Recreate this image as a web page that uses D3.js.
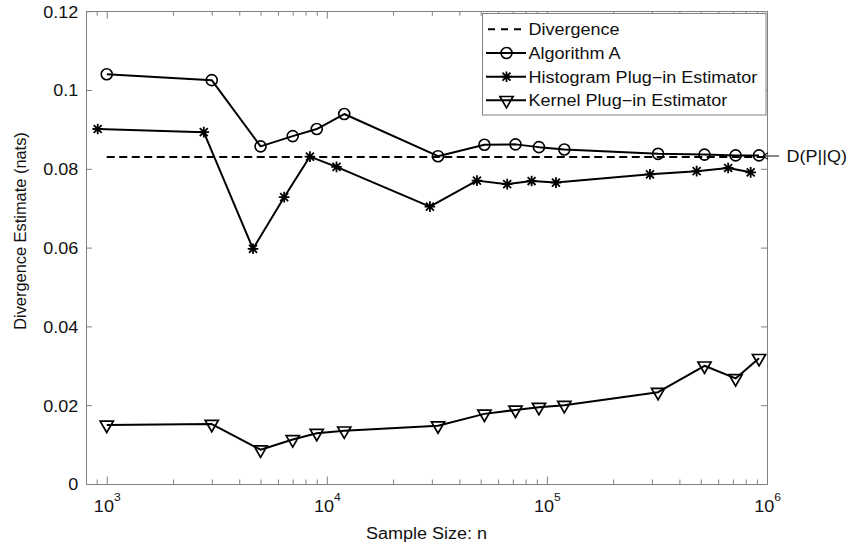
<!DOCTYPE html>
<html>
<head>
<meta charset="utf-8">
<script src="https://cdn.jsdelivr.net/npm/d3@7/dist/d3.min.js"></script>
<style>
  html, body { margin: 0; padding: 0; background: #fff; }
  svg { display: block; }
  text { font-family: "Liberation Sans", Arial, Helvetica, sans-serif; fill: #111; }
</style>
</head>
<body>
<svg id="chart" width="851" height="547"></svg>
<script>
// ---------------- data ----------------
const divergenceValue = 0.083;
const divergenceN = [1000, 1000000];

const algN   = [1000, 3000, 5000, 7000, 9000, 12000, 32000, 52000, 72000, 92000, 120000, 320000, 520000, 720000, 920000];
const algVal = [0.1040, 0.1025, 0.0857, 0.0883, 0.0901, 0.0939, 0.0832, 0.0861, 0.0862, 0.0855, 0.0849, 0.0838, 0.0836, 0.0834, 0.0834];

const histN   = [910, 2760, 4620, 6400, 8380, 11070, 29400, 48100, 66000, 85200, 109900, 294000, 479000, 666000, 843000];
const histVal = [0.0901, 0.0893, 0.0597, 0.0728, 0.0831, 0.0805, 0.0704, 0.0770, 0.0761, 0.0769, 0.0765, 0.0786, 0.0794, 0.0802, 0.0791];

const kernN   = [1000, 3000, 5000, 7000, 9000, 12000, 32000, 52000, 72000, 92000, 120000, 320000, 520000, 720000, 920000];
const kernVal = [0.0150, 0.0152, 0.0087, 0.0113, 0.0129, 0.0135, 0.0148, 0.0178, 0.0188, 0.0195, 0.0200, 0.0233, 0.0300, 0.0268, 0.0319];

const xMajorTicks = [1e3, 1e4, 1e5, 1e6];
const xMajorExp = ["3", "4", "5", "6"];
const yTicks = [0, 0.02, 0.04, 0.06, 0.08, 0.1, 0.12];
const yTickLabels = ["0", "0.02", "0.04", "0.06", "0.08", "0.1", "0.12"];

const legendLabels = ["Divergence", "Algorithm A", "Histogram Plug\u2212in Estimator", "Kernel Plug\u2212in Estimator"];
const annotationLabel = "D(P||Q)";
const xLabel = "Sample Size: n";
const yLabel = "Divergence Estimate (nats)";

// ---------------- layout ----------------
const L = 86, R = 767, T = 11.2, B = 484;
const FS = 16.4, SX = 1.1;
const axisColor = "#808080";

const svg = d3.select("#chart");
const x = d3.scaleLog().domain([805, 1e6]).range([L, R]);
const y = d3.scaleLinear().domain([0, 0.12]).range([B, T]);

// minor ticks
const xMinor = [];
for (let e = 2; e <= 5; e++) for (let m = 2; m <= 9; m++) {
  const v = m * Math.pow(10, e);
  if (v >= 805 && v <= 1e6) xMinor.push(v);
}

function styleAxis(g) {
  g.select(".domain").remove();
  g.selectAll(".tick line").attr("stroke", axisColor).attr("stroke-width", 1);
}

// bottom major
const gxB = svg.append("g").attr("transform", `translate(0,${B})`)
  .call(d3.axisBottom(x).tickValues(xMajorTicks).tickSizeInner(-7.5).tickSizeOuter(0).tickPadding(14).tickFormat(""))
  .call(styleAxis);
gxB.selectAll(".tick text").remove();
gxB.selectAll(".tick").each(function(d, i) {
  const t = d3.select(this).append("text")
    .attr("transform", `scale(${SX},1)`)
    .attr("x", 0).attr("y", 28)
    .attr("text-anchor", "middle")
    .style("font-size", FS + "px");
  t.append("tspan").text("10");
  t.append("tspan").attr("dy", -11).style("font-size", "11px").text(xMajorExp[i]);
});
// bottom minor
svg.append("g").attr("transform", `translate(0,${B})`)
  .call(d3.axisBottom(x).tickValues(xMinor).tickSizeInner(-4.5).tickSizeOuter(0).tickFormat(""))
  .call(styleAxis);
// top major + minor
svg.append("g").attr("transform", `translate(0,${T})`)
  .call(d3.axisTop(x).tickValues(xMajorTicks).tickSizeInner(-7.5).tickSizeOuter(0).tickFormat(""))
  .call(styleAxis);
svg.append("g").attr("transform", `translate(0,${T})`)
  .call(d3.axisTop(x).tickValues(xMinor).tickSizeInner(-4.5).tickSizeOuter(0).tickFormat(""))
  .call(styleAxis);

// left
const gyL = svg.append("g").attr("transform", `translate(${L},0)`)
  .call(d3.axisLeft(y).tickValues(yTicks).tickSizeInner(-6).tickSizeOuter(0).tickPadding(7)
    .tickFormat((d, i) => yTickLabels[i]))
  .call(styleAxis);
gyL.selectAll(".tick text")
  .attr("transform", `scale(${SX},1)`)
  .attr("dy", "0.36em")
  .style("font-size", FS + "px")
  .attr("font-family", null)
  .attr("fill", "#111");
// right
svg.append("g").attr("transform", `translate(${R},0)`)
  .call(d3.axisRight(y).tickValues(yTicks).tickSizeInner(-6).tickSizeOuter(0).tickFormat(""))
  .call(styleAxis);

// box
svg.append("rect").attr("x", L).attr("y", T).attr("width", R - L).attr("height", B - T)
  .attr("fill", "none").attr("stroke", axisColor).attr("stroke-width", 1)
  .attr("shape-rendering", "crispEdges");

// clip
svg.append("clipPath").attr("id", "plotclip").append("rect")
  .attr("x", L).attr("y", T - 10).attr("width", R - L).attr("height", B - T + 20);

const plot = svg.append("g");

// divergence dashed line
plot.append("path")
  .attr("clip-path", "url(#plotclip)")
  .datum(divergenceN)
  .attr("d", d3.line().x(d => x(d)).y(() => y(divergenceValue)))
  .attr("fill", "none").attr("stroke", "#000").attr("stroke-width", 2)
  .attr("stroke-dasharray", "8,4.5");

const line = d3.line().x(d => x(d[0])).y(d => y(d[1]));
function series(ns, vs) { return ns.map((n, i) => [n, vs[i]]); }

// marker generators
function circleMarker(g, cx, cy) {
  g.append("circle").attr("cx", cx).attr("cy", cy).attr("r", 5.5)
    .attr("fill", "none").attr("stroke", "#000").attr("stroke-width", 1.6);
}
function starMarker(g, cx, cy) {
  const r = 5.3, d = r * 0.75;
  g.append("path")
    .attr("d", `M${cx - r},${cy}L${cx + r},${cy}M${cx},${cy - r}L${cx},${cy + r}` +
               `M${cx - d},${cy - d}L${cx + d},${cy + d}M${cx - d},${cy + d}L${cx + d},${cy - d}`)
    .attr("fill", "none").attr("stroke", "#000").attr("stroke-width", 1.8);
}
function triMarker(g, cx, cy) {
  const r = 7.6;
  g.append("path")
    .attr("d", `M${cx},${cy + r}L${cx - r * 0.866},${cy - r / 2}L${cx + r * 0.866},${cy - r / 2}Z`)
    .attr("fill", "none").attr("stroke", "#000").attr("stroke-width", 1.7)
    .attr("stroke-linejoin", "miter");
}

const allSeries = [
  { data: series(algN, algVal), marker: circleMarker },
  { data: series(histN, histVal), marker: starMarker },
  { data: series(kernN, kernVal), marker: triMarker },
];
allSeries.forEach(s => {
  plot.append("path").datum(s.data).attr("d", line)
    .attr("fill", "none").attr("stroke", "#000").attr("stroke-width", 2)
    .attr("stroke-linejoin", "round");
  const mg = plot.append("g");
  s.data.forEach(d => s.marker(mg, x(d[0]), y(d[1])));
});

// helper for stretched text
function stext(parent, tx, ty, str, anchor) {
  return parent.append("text")
    .attr("transform", `translate(${tx},${ty}) scale(${SX},1)`)
    .attr("text-anchor", anchor || "start")
    .style("font-size", FS + "px")
    .text(str);
}

// annotation arrow + text
const ay = y(divergenceValue) - 1;
svg.append("path")
  .attr("d", `M763,${ay}L779,${ay}M763,${ay}L768,${ay - 3.2}M763,${ay}L768,${ay + 3.2}`)
  .attr("stroke", "#111").attr("stroke-width", 1.1).attr("fill", "none");
stext(svg, 786.5, ay + 6, annotationLabel);

// legend
const lg = svg.append("g");
lg.append("rect").attr("x", 482.5).attr("y", 13.5).attr("width", 283.5).attr("height", 101.5)
  .attr("fill", "#fff").attr("stroke", axisColor).attr("stroke-width", 1);
const legY = [29.3, 53, 76.7, 100.3];
const lx0 = 486, lx1 = 526, lmid = 506.5;
// divergence entry
lg.append("path").attr("d", `M${lx0 + 2},${legY[0]}L${lx1 - 2},${legY[0]}`)
  .attr("stroke", "#000").attr("stroke-width", 2).attr("stroke-dasharray", "7,6");
[circleMarker, starMarker, triMarker].forEach((mk, i) => {
  const yy = legY[i + 1];
  lg.append("path").attr("d", `M${lx0},${yy}L${lx1},${yy}`)
    .attr("stroke", "#000").attr("stroke-width", 2);
  mk(lg, lmid, yy);
});
legendLabels.forEach((t, i) => stext(lg, 528.5, legY[i] + 6, t));

// axis labels
stext(svg, (L + R) / 2, 539, xLabel, "middle");
svg.append("text")
  .attr("transform", `translate(26,231) rotate(-90)`)
  .attr("text-anchor", "middle")
  .style("font-size", FS + "px")
  .text(yLabel);
</script>
</body>
</html>
